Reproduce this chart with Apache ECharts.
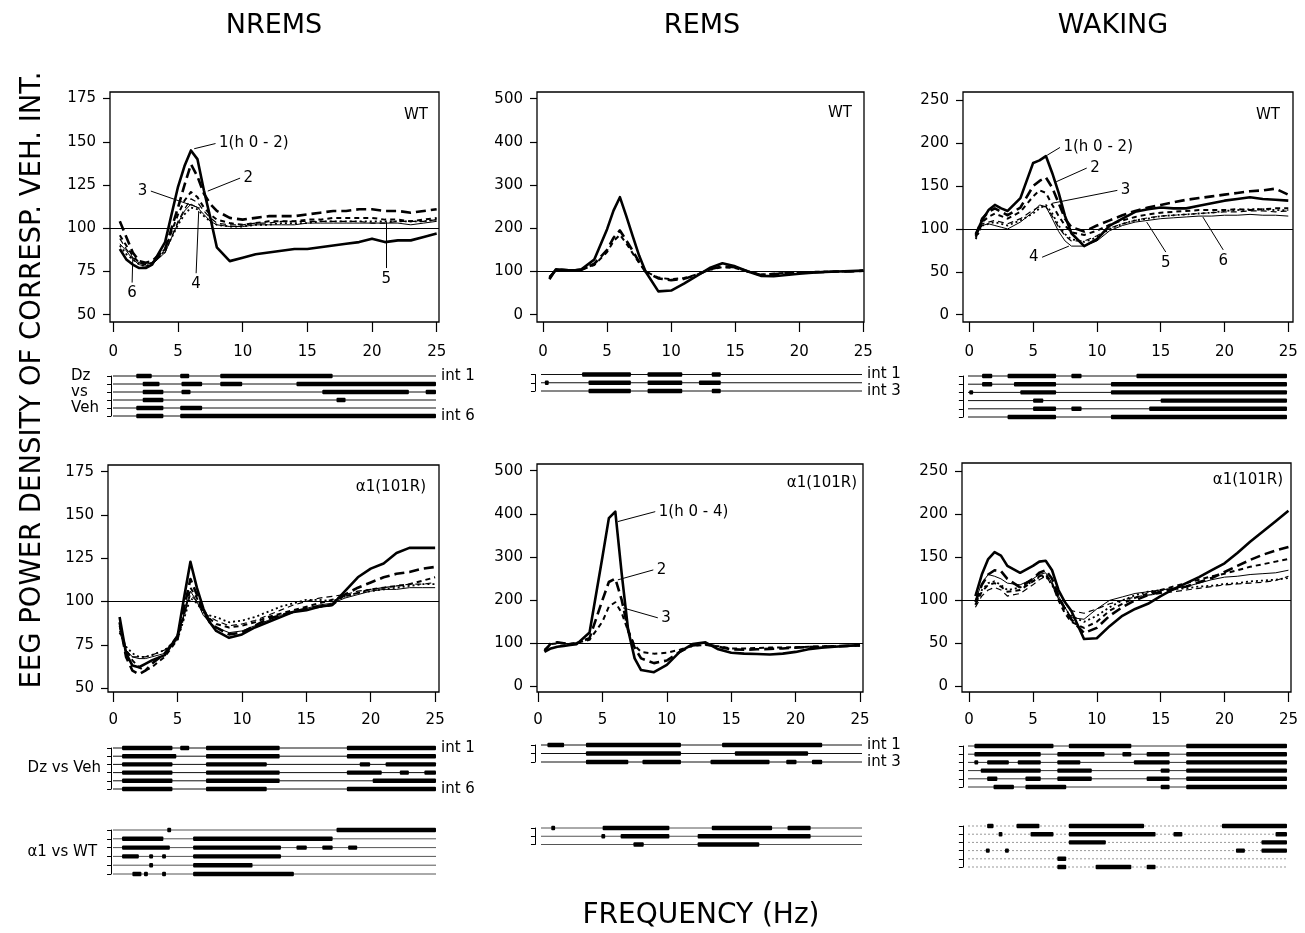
<!DOCTYPE html>
<html><head><meta charset="utf-8">
<script src="https://cdn.jsdelivr.net/npm/echarts@6/dist/echarts.min.js"></script>
<style>html,body{margin:0;padding:0;background:#fff}#c{width:1305px;height:933px}</style>
</head><body><div id="c"></div>
<script>
// ---------------- DATA ----------------
const freq = [0.5,1,1.5,2,2.5,3,4,5,5.5,6,6.5,7,7.5,8,9,10,11,12,13,14,15,16,17,18,19,20,21,22,23,24,25];
const freqRange = [0, 25];
const xTickValues = [0,5,10,15,20,25];
const yTicksNrems = [50,75,100,125,150,175];
const yTicksRems = [0,100,200,300,400,500];
const yTicksWake = [0,50,100,150,200,250];
const refLevel = 100;

// NREMS WT, intervals 1..6
const nremsWT1 = [88,82,79,77,77,79, 92,124, 136,145,140,122,106,89, 81,83,85,86,87,88,88,89,90,91,92,94,92,93,93,95,97];
const nremsWT2 = [104,95,86,81,80,81, 88,112, 125,137,130,120,114,110, 106,105,106,107,107,107,108,109,110,110,111,111,110,110,109,110,111];
const nremsWT3 = [96,90,84,80,79,80, 88,108, 116,121,118,112,108,105, 103,102,103,104,104,104,105,105,106,106,106,106,105,105,104,105,106];
const nremsWT4 = [91,87,82,79,78,79, 86,103, 110,114,112,108,104,102, 101,101,102,102,102,102,103,103,103,103,103,103,103,103,102,103,104];
const nremsWT5 = [94,88,83,80,79,80, 86,104, 111,117,115,110,106,103, 102,102,103,103,104,104,104,104,104,104,104,103,103,104,104,104,105];
const nremsWT6 = [90,85,82,79,78,80, 87,102, 108,112,111,107,104,102, 101,101,102,102,103,103,103,104,104,104,104,104,104,104,104,104,105];
// REMS WT, intervals 1..3
const remsWT1 = [82,105,104,103,103,105, 128,198, 241,272,228,182,137,100, 54,56,72,90,108,119,112,100,90,89,92,95,97,99,100,101,102];
const remsWT2 = [85,104,104,103,103,104, 118,150, 178,195,172,148,122,100, 84,80,83,92,105,112,110,100,92,94,96,97,98,99,100,100,102];
const remsWT3 = [88,102,103,103,103,104, 115,145, 170,185,165,142,120,100, 86,82,85,93,104,110,108,100,93,95,97,98,99,100,100,101,102];
// WAKING WT, intervals 1..6
const wakeWT1 = [94,110,122,128,124,121, 136,177, 180,185,165,142,115,95, 80,88,104,112,120,123,125,124,124,127,130,133,135,137,135,134,133];
const wakeWT2 = [92,112,120,124,120,116, 125,150, 156,160,148,130,112,102, 97,104,110,116,121,125,128,131,134,136,138,140,142,144,145,147,140];
const wakeWT3 = [90,108,114,118,115,112, 120,138, 145,142,128,115,104,96, 93,98,105,110,114,117,119,120,121,122,122,122,123,122,123,124,124];
const wakeWT4 = [92,104,106,104,102,100, 108,120, 128,126,112,97,86,80, 80,86,98,104,108,110,112,113,114,115,115,116,116,117,116,116,115];
const wakeWT5 = [92,106,108,110,108,106, 112,122, 126,126,115,102,92,86, 86,92,101,106,110,113,115,116,117,118,119,120,120,121,121,120,121];
const wakeWT6 = [88,104,106,108,106,104, 110,118, 124,128,118,104,94,88, 85,90,100,106,110,112,115,116,117,118,119,121,122,123,123,122,122];
// NREMS alpha1(101R), intervals 1..6
const nremsA1 = [91,70,63,62,64,66, 69,80, 102,123,108,96,88,83, 79,81,85,88,91,94,95,97,98,106,114,119,122,128,131,131,131];
const nremsA2 = [88,68,60,58,60,64, 70,80, 96,113,104,94,88,85, 81,82,86,90,92,94,96,97,98,104,108,111,114,116,117,119,120];
const nremsA3 = [86,72,66,62,60,62, 68,78, 92,108,102,94,90,87, 85,86,88,91,93,95,97,99,101,103,105,107,108,109,110,112,114];
const nremsA4 = [85,72,68,67,67,68, 70,78, 93,106,100,92,88,85, 82,83,86,89,92,94,96,98,99,102,104,106,107,107,108,108,108];
const nremsA5 = [83,70,68,68,68,69, 72,79, 92,104,100,94,91,89, 86,87,89,92,95,98,100,102,103,104,106,107,108,109,110,110,111];
const nremsA6 = [82,74,70,68,68,69, 72,78, 90,102,99,94,92,91, 88,89,91,94,97,99,101,101,100,103,105,106,107,108,109,110,110];
// REMS alpha1(101R), intervals 1..3
const remsA1 = [80,88,92,94,96,98, 125,300, 390,405,260,130,65,38, 33,50,80,98,102,86,78,76,75,74,76,80,86,90,92,94,96];
const remsA2 = [82,100,102,100,98,100, 112,200, 242,250,200,130,90,65, 54,60,80,95,98,92,86,85,86,87,88,90,91,92,93,94,95];
const remsA3 = [85,98,100,100,99,101, 108,150, 185,195,170,128,95,80, 76,78,85,94,96,93,88,88,89,90,90,91,92,93,93,94,95];
// WAKING alpha1(101R), intervals 1..6
const wakeA1 = [105,130,148,156,152,140, 132,140, 145,146,135,112,98,88, 55,56,70,82,90,96,105,113,120,127,135,143,155,168,180,192,204];
const wakeA2 = [98,118,130,135,134,125, 115,125, 132,135,125,105,90,78, 62,68,82,92,100,106,110,113,116,121,126,133,140,147,153,158,162];
const wakeA3 = [95,110,118,120,116,110, 112,122, 128,130,120,100,85,75, 68,75,88,96,103,108,112,116,120,124,128,131,135,139,142,145,148];
const wakeA4 = [100,120,130,128,125,120, 118,125, 130,132,120,105,92,80, 78,90,100,104,108,110,112,114,116,120,124,127,128,130,131,132,135];
const wakeA5 = [92,105,112,115,112,105, 108,118, 124,128,118,102,92,88, 85,90,96,100,104,106,108,110,112,114,116,118,119,120,121,123,128];
const wakeA6 = [95,112,120,122,118,112, 115,122, 127,128,118,102,90,82, 75,82,92,100,106,110,112,113,114,116,117,119,120,122,123,124,126];

// Significance segments: [interval row, from Hz, to Hz]
const sigNremsWT = [[1,1.8,3.0],[1,5.2,5.9],[1,8.3,17.0],[2,2.3,3.6],[2,5.3,6.9],[2,8.3,10.0],[2,14.2,25],[3,2.3,3.9],[3,5.3,6.0],[3,16.2,22.9],[3,24.2,25],[4,2.3,3.9],[4,17.3,18.0],[5,1.8,3.9],[5,5.2,6.9],[6,1.8,3.9],[6,5.2,25]];
const sigRemsWT = [[1,3.2,7.0],[1,8.3,11.0],[1,13.3,14.0],[2,0.3,0.6],[2,3.7,7.0],[2,8.3,11.0],[2,12.3,14.0],[3,3.7,7.0],[3,8.3,11.0],[3,13.3,14.0]];
const sigWakeWT = [[1,1.1,1.9],[1,3.1,6.9],[1,8.1,8.9],[1,13.2,25],[2,1.1,1.9],[2,3.6,6.9],[2,11.2,25],[3,0.1,0.4],[3,4.1,6.9],[3,11.2,25],[4,5.1,5.9],[4,15.1,25],[5,5.1,6.9],[5,8.1,8.9],[5,14.2,25],[6,3.1,6.9],[6,11.2,25]];
const sigNremsA = [[1,0.7,4.6],[1,5.2,5.9],[1,7.2,12.9],[1,18.1,25],[2,0.7,4.9],[2,7.2,12.9],[2,18.1,25],[3,0.7,4.6],[3,7.2,11.9],[3,19.1,19.9],[3,21.1,25],[4,0.7,4.6],[4,7.2,12.9],[4,18.1,20.8],[4,22.2,22.9],[4,24.1,25],[5,0.7,4.6],[5,7.2,12.9],[5,20.1,25],[6,0.7,4.6],[6,7.2,11.9],[6,18.1,25]];
const sigNremsAvsWT = [[1,4.2,4.5],[1,17.3,25],[2,0.7,3.9],[2,6.2,17.0],[3,0.7,4.4],[3,6.2,13.0],[3,14.2,15.0],[3,16.2,17.0],[3,18.2,18.9],[4,0.7,2.0],[4,2.8,3.1],[4,3.8,4.1],[4,6.2,13.0],[5,2.8,3.1],[5,6.2,10.8],[6,1.5,2.2],[6,2.4,2.7],[6,3.8,4.1],[6,6.2,14.0]];
const sigRemsA = [[1,0.5,1.8],[1,3.5,10.9],[1,14.1,21.9],[2,3.5,10.9],[2,15.1,20.8],[3,3.5,6.8],[3,7.9,10.9],[3,13.2,17.8],[3,19.1,19.9],[3,21.1,21.9]];
const sigRemsAvsWT = [[1,0.8,1.1],[1,4.8,10.0],[1,13.3,18.0],[1,19.2,21.0],[2,4.7,5.0],[2,6.2,10.0],[2,12.2,21.0],[3,7.2,8.0],[3,12.2,17.0]];
const sigWakeA = [[1,0.5,6.7],[1,7.9,12.8],[1,17.1,25],[2,0.5,5.7],[2,7.0,10.7],[2,12.1,12.8],[2,14.0,15.8],[2,17.1,25],[3,0.5,0.8],[3,1.5,3.2],[3,3.9,5.7],[3,7.0,8.8],[3,13.0,15.8],[3,17.1,25],[4,1.0,5.7],[4,7.0,9.7],[4,15.1,15.8],[4,17.1,25],[5,1.5,2.3],[5,4.5,5.7],[5,7.0,9.7],[5,14.0,15.8],[5,17.1,25],[6,2.0,3.6],[6,4.5,7.7],[6,15.1,15.8],[6,17.1,25]];
const sigWakeAvsWT = [[1,1.5,2.0],[1,3.8,5.6],[1,7.9,13.8],[1,19.9,25],[2,2.4,2.7],[2,4.9,6.7],[2,7.9,14.7],[2,16.1,16.8],[2,24.1,25],[3,7.9,10.8],[3,23.0,25],[4,1.4,1.7],[4,2.9,3.2],[4,21.0,21.7],[4,23.0,25],[5,7.0,7.7],[6,7.0,7.7],[6,10.0,12.8],[6,14.0,14.7]];

// Curve labels (text, point on curve, end of leader)
const annNremsWT = [
  {t:'1(h 0 - 2)', p:[6.25,146], q:[7.9,149], pos:'right'},
  {t:'2', p:[7.3,121.5], q:[9.8,129], pos:'right'},
  {t:'3', p:[6.7,111.6], q:[2.9,121.5], pos:'left'},
  {t:'4', p:[6.6,110], q:[6.4,74], pos:'bottom'},
  {t:'5', p:[21.1,103.5], q:[21.1,77], pos:'bottom'},
  {t:'6', p:[1.5,82.6], q:[1.45,68.6], pos:'bottom'}
];
const annWakeWT = [
  {t:'1(h 0 - 2)', p:[6.1,186], q:[7.1,195], pos:'right'},
  {t:'2', p:[6.8,155], q:[9.2,171], pos:'right'},
  {t:'3', p:[6.5,130], q:[11.6,145], pos:'right'},
  {t:'4', p:[7.8,80], q:[5.7,67], pos:'left'},
  {t:'5', p:[13.9,108], q:[15.4,73], pos:'bottom'},
  {t:'6', p:[18.3,114], q:[19.9,75.6], pos:'bottom'}
];
const annRemsA = [
  {t:'1(h 0 - 4)', p:[6.2,382], q:[9.1,405], pos:'right'},
  {t:'2', p:[6.2,247], q:[8.95,270], pos:'right'},
  {t:'3', p:[6.6,182], q:[9.3,159], pos:'right'}
];

// ---------------- CHART ----------------
const FONT = 'DejaVu Sans';
const STYLES = [
  {width:2.6, type:'solid'},
  {width:2.6, type:[10,5]},
  {width:2, type:[5,4]},
  {width:1, type:'solid'},
  {width:1.2, type:[6,4]},
  {width:1.8, type:[2,3]}
];
const grids = [], xAxes = [], yAxes = [], series = [];

function addPanel(cfg) {
  const gi = grids.length;
  grids.push({left:cfg.box[0], top:cfg.box[1], width:cfg.box[2]-cfg.box[0], height:cfg.box[3]-cfg.box[1],
    show:true, borderColor:'#000', borderWidth:1.3, backgroundColor:'rgba(0,0,0,0)'});
  xAxes.push({gridIndex:gi, type:'value', min:cfg.xr[0], max:cfg.xr[1],
    axisLine:{show:false, onZero:false},
    axisTick:{show:true, length:10, customValues:xTickValues, lineStyle:{color:'#000', width:1.2}},
    axisLabel:{show:true, customValues:xTickValues, margin:cfg.xm, color:'#000', fontFamily:FONT, fontSize:15},
    splitLine:{show:false}});
  const xi = xAxes.length - 1;
  yAxes.push({gridIndex:gi, type:'value', min:cfg.yr[0], max:cfg.yr[1],
    axisLine:{show:false, onZero:false},
    axisTick:{show:true, length:7, customValues:cfg.yt, lineStyle:{color:'#000', width:1.2}},
    axisLabel:{show:true, customValues:cfg.yt, margin:14, color:'#000', fontFamily:FONT, fontSize:15},
    splitLine:{show:false}});
  const yi = yAxes.length - 1;
  cfg.lines.forEach((arr, i) => {
    const s = {type:'line', xAxisIndex:xi, yAxisIndex:yi, silent:true, symbol:'none', z:10-i,
      data: freq.map((f,k) => [f, arr[k]]),
      lineStyle:{color:'#000', width:STYLES[i].width, type:STYLES[i].type, join:'round'}};
    if (i === 0) {
      const ann = cfg.ann || [];
      s.markLine = {silent:true, symbol:['none','none'], animation:false, label:{show:false},
        lineStyle:{color:'#000', width:1, type:'solid'},
        data:[{yAxis:refLevel}].concat(ann.map(a => [{coord:a.p},{coord:a.q}]))};
      s.markPoint = {silent:true, symbol:'circle', symbolSize:1, animation:false, itemStyle:{color:'rgba(0,0,0,0)'},
        label:{show:true, color:'#000', fontFamily:FONT, fontSize:15, distance:3},
        data: ann.map(a => ({coord:a.q, value:0, label:{position:a.pos, formatter:a.t}}))};
    }
    series.push(s);
  });
}

function addStrip(cfg) {
  const gi = grids.length;
  const n = cfg.rows;
  const scale = (cfg.p25 - cfg.p0) / 25;
  const left = cfg.p0 + cfg.xmin * scale;
  grids.push({left:left, top:cfg.top, width:cfg.p25-left, height:cfg.h, show:false});
  xAxes.push({gridIndex:gi, type:'value', min:cfg.xmin, max:freqRange[1], show:false});
  const xi = xAxes.length - 1;
  const rows = Array.from({length:n}, (_, i) => i + 1);
  const ll = cfg.leftLabels || [];
  yAxes.push({gridIndex:gi, type:'value', position:'left', min:1, max:n, inverse:true,
    axisLine:{show:true, onZero:false, lineStyle:{color:'#000', width:1}},
    axisTick:{show:true, length:4, customValues:rows, lineStyle:{color:'#000', width:1}},
    axisLabel:{show:ll.length>0, customValues:ll.map(l=>l[0]),
      formatter: v => { const f = ll.find(l => Math.abs(l[0]-v) < 1e-6); return f ? f[1] : ''; },
      margin:cfg.lm || 10, align:cfg.la || 'right', color:'#000', fontFamily:FONT, fontSize:15},
    splitLine:{show:false}});
  const yi = yAxes.length - 1;
  const rl = cfg.rightLabels || [];
  yAxes.push({gridIndex:gi, type:'value', position:'right', min:1, max:n, inverse:true,
    axisLine:{show:false, onZero:false}, axisTick:{show:false},
    axisLabel:{show:rl.length>0, customValues:rl.map(l=>l[0]),
      formatter: v => { const f = rl.find(l => Math.abs(l[0]-v) < 1e-6); return f ? f[1] : ''; },
      margin:5, align:'left', color:'#000', fontFamily:FONT, fontSize:15},
    splitLine:{show:false}});
  const thin = cfg.thin || '#111';
  series.push({type:'custom', xAxisIndex:xi, yAxisIndex:yi, silent:true, z:2,
    data: rows.map(r => [freqRange[0], r, freqRange[1]]),
    renderItem: (params, api) => {
      const a = api.coord([api.value(0), api.value(1)]);
      const b = api.coord([api.value(2), api.value(1)]);
      return {type:'line', shape:{x1:a[0], y1:a[1], x2:b[0], y2:b[1]}, style:{stroke:thin, lineWidth:1, lineDash:cfg.dash || null}};
    }});
  series.push({type:'custom', xAxisIndex:xi, yAxisIndex:yi, silent:true, z:3,
    data: cfg.segs,
    renderItem: (params, api) => {
      const r = api.value(0);
      const a = api.coord([api.value(1), r]);
      const b = api.coord([api.value(2), r]);
      return {type:'rect', shape:{x:a[0], y:a[1]-2.2, width:Math.max(b[0]-a[0], 3), height:4.4, r:1}, style:{fill:'#000'}};
    }});
}

// Main panels
addPanel({box:[110,92,439,322], xr:[-0.26,25.18], yr:[45.8,178.8], yt:yTicksNrems, xm:23,
  lines:[nremsWT1,nremsWT2,nremsWT3,nremsWT4,nremsWT5,nremsWT6], ann:annNremsWT});
addPanel({box:[537,92,864,322], xr:[-0.47,25.05], yr:[-16.8,515.4], yt:yTicksRems, xm:23,
  lines:[remsWT1,remsWT2,remsWT3]});
addPanel({box:[963,92,1293,322], xr:[-0.5,25.37], yr:[-8.5,259.7], yt:yTicksWake, xm:23,
  lines:[wakeWT1,wakeWT2,wakeWT3,wakeWT4,wakeWT5,wakeWT6], ann:annWakeWT});
addPanel({box:[108,465,439,692], xr:[-0.4,25.3], yr:[47.7,178.9], yt:yTicksNrems, xm:21,
  lines:[nremsA1,nremsA2,nremsA3,nremsA4,nremsA5,nremsA6]});
addPanel({box:[537,464,863,692], xr:[-0.08,25.23], yr:[-12.9,515.4], yt:yTicksRems, xm:21,
  lines:[remsA1,remsA2,remsA3], ann:annRemsA});
addPanel({box:[962,463,1291,692], xr:[-0.55,25.2], yr:[-6.5,259.6], yt:yTicksWake, xm:21,
  lines:[wakeA1,wakeA2,wakeA3,wakeA4,wakeA5,wakeA6]});

// Strips
addStrip({p0:113, p25:436, xmin:-0.15, top:376, h:40, rows:6, segs:sigNremsWT,
  leftLabels:[[1,'Dz'],[3,'vs'],[5,'Veh']], la:'left', lm:40, rightLabels:[[1,'int 1'],[6,'int 6']]});
addStrip({p0:541, p25:862, xmin:-0.47, top:374.5, h:16.5, rows:3, segs:sigRemsWT,
  rightLabels:[[1,'int 1'],[3,'int 3']]});
addStrip({p0:968, p25:1287, xmin:-0.4, top:376, h:41, rows:6, segs:sigWakeWT});
addStrip({p0:113, p25:436, xmin:-0.15, top:748, h:41, rows:6, segs:sigNremsA,
  leftLabels:[[3.5,'Dz vs Veh']], la:'right', lm:10, rightLabels:[[1,'int 1'],[6,'int 6']]});
addStrip({p0:113, p25:436, xmin:-0.15, top:830, h:44, rows:6, segs:sigNremsAvsWT, thin:'#555',
  leftLabels:[[3.5,'\u03b11 vs WT']], la:'right', lm:14});
addStrip({p0:541, p25:862, xmin:-0.47, top:745, h:17, rows:3, segs:sigRemsA,
  rightLabels:[[1,'int 1'],[3,'int 3']]});
addStrip({p0:541, p25:862, xmin:-0.47, top:828, h:16.5, rows:3, segs:sigRemsAvsWT, thin:'#555'});
addStrip({p0:968, p25:1287, xmin:-0.4, top:746, h:41, rows:6, segs:sigWakeA, thin:'#333'});
addStrip({p0:968, p25:1287, xmin:-0.4, top:826, h:41, rows:6, segs:sigWakeAvsWT, thin:'#999', dash:[2,2]});

function txt(x, y, t, size, align, rot) {
  return {type:'text', x:x, y:y, rotation:rot || 0, silent:true, z:100,
    style:{text:t, fill:'#000', font:size + 'px "DejaVu Sans"',
      textAlign:align || 'center', align:align || 'center', textVerticalAlign:'middle', verticalAlign:'middle'}};
}

const option = {
  animation:false,
  backgroundColor:'#fff',
  grid:grids, xAxis:xAxes, yAxis:yAxes, series:series,
  graphic:[
    txt(274, 26, 'NREMS', 27),
    txt(702, 26, 'REMS', 27),
    txt(1113, 26, 'WAKING', 27),
    txt(701, 916, 'FREQUENCY (Hz)', 28),
    txt(33, 380, 'EEG POWER DENSITY OF CORRESP. VEH. INT.', 27.5, 'center', Math.PI/2),
    txt(428, 115, 'WT', 15, 'right'),
    txt(852, 113, 'WT', 15, 'right'),
    txt(1280, 115, 'WT', 15, 'right'),
    txt(426, 487, '\u03b11(101R)', 15, 'right'),
    txt(857, 483, '\u03b11(101R)', 15, 'right'),
    txt(1283, 480, '\u03b11(101R)', 15, 'right')
  ]
};
const chart = echarts.init(document.getElementById('c'), null, {renderer:'canvas'});
chart.setOption(option);
</script>
</body></html>
